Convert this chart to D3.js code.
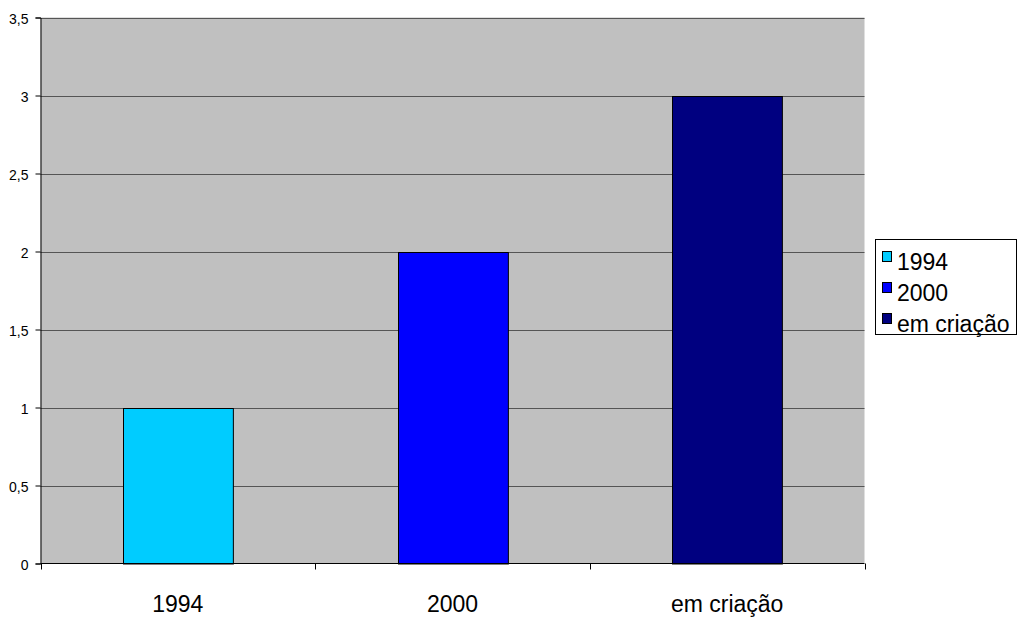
<!DOCTYPE html>
<html>
<head>
<meta charset="utf-8">
<script src="https://cdn.jsdelivr.net/npm/d3@7"></script>
<style>
  html, body { margin: 0; padding: 0; background: #fff; }
  svg { display: block; font-family: "Liberation Sans", Arial, sans-serif; }
</style>
</head>
<body>
<svg id="chart" width="1018" height="619"></svg>
<script>
// Data
const categories = ["1994", "2000", "em criação"];
const values = [1, 2, 3];
const colors = ["#00CCFF", "#0000FF", "#000080"];
const yTicks = [0, 0.5, 1, 1.5, 2, 2.5, 3, 3.5];

const FONT = "Liberation Sans, Arial, sans-serif";
const svg = d3.select("#chart");
const plot = { left: 40.5, right: 864.5, top: 17.5, bottom: 563.5 };

const x = d3.scaleBand()
  .domain(categories)
  .range([plot.left, plot.right])
  .paddingInner(0.6)
  .paddingOuter(0.3);

const y = d3.scaleLinear()
  .domain([0, 3.5])
  .range([plot.bottom, plot.top]);

const fmt = d => String(d).replace(".", ",");

// Plot background
svg.append("rect")
  .attr("x", plot.left).attr("y", plot.top)
  .attr("width", plot.right - plot.left)
  .attr("height", plot.bottom - plot.top)
  .attr("fill", "#C0C0C0");

// Gridlines
svg.append("g").selectAll("line")
  .data(yTicks.filter(d => d > 0))
  .join("line")
  .attr("x1", plot.left).attr("x2", plot.right)
  .attr("y1", d => Math.round(y(d)) + 0.5)
  .attr("y2", d => Math.round(y(d)) + 0.5)
  .attr("stroke", "#555")
  .attr("stroke-width", 1);

// Bars
svg.append("g").selectAll("rect")
  .data(categories)
  .join("rect")
  .attr("x", d => Math.round(x(d)) + 0.5)
  .attr("y", (d, i) => Math.round(y(values[i])) + 0.5)
  .attr("width", x.bandwidth())
  .attr("height", (d, i) => y(0) - Math.round(y(values[i])))
  .attr("fill", (d, i) => colors[i])
  .attr("stroke", "#000")
  .attr("stroke-width", 1);

// Y axis
const yAxis = d3.axisLeft(y)
  .tickValues(yTicks)
  .tickFormat(fmt)
  .tickSize(5)
  .tickPadding(7);
const gy = svg.append("g")
  .attr("transform", `translate(${plot.left},0)`)
  .call(yAxis);
gy.attr("font-family", FONT).attr("font-size", 14);
gy.select(".domain").attr("stroke", "#000");
gy.selectAll(".tick line").attr("stroke", "#000");
gy.selectAll(".tick text").attr("fill", "#000").attr("dy", "0.45em");

// X axis: ticks mark category boundaries
const boundaries = [0, 1, 2, 3].map(i => plot.left + i * (plot.right - plot.left) / 3);
const gx = svg.append("g").attr("font-family", FONT);
gx.append("line")
  .attr("x1", plot.left).attr("x2", plot.right)
  .attr("y1", plot.bottom).attr("y2", plot.bottom)
  .attr("stroke", "#000");
gx.selectAll("line.tk")
  .data(boundaries)
  .join("line")
  .attr("class", "tk")
  .attr("x1", d => Math.round(d) + 0.5).attr("x2", d => Math.round(d) + 0.5)
  .attr("y1", plot.bottom).attr("y2", plot.bottom + 6)
  .attr("stroke", "#000");
gx.selectAll("text")
  .data(categories)
  .join("text")
  .attr("x", d => x(d) + x.bandwidth() / 2)
  .attr("y", 612)
  .attr("text-anchor", "middle")
  .attr("font-size", 23)
  .attr("fill", "#000")
  .text(d => d);

// Legend
const legend = svg.append("g").attr("font-family", FONT);
legend.append("rect")
  .attr("x", 875.5).attr("y", 239.5)
  .attr("width", 141).attr("height", 95)
  .attr("fill", "#fff")
  .attr("stroke", "#000");
const items = legend.selectAll("g.item")
  .data(categories)
  .join("g")
  .attr("class", "item")
  .attr("transform", (d, i) => `translate(0, ${i * 31})`);
items.append("rect")
  .attr("x", 882.5).attr("y", 251.5)
  .attr("width", 9).attr("height", 10)
  .attr("fill", (d, i) => colors[i])
  .attr("stroke", "#000");
items.append("text")
  .attr("x", 897)
  .attr("y", 270)
  .attr("font-size", 23)
  .attr("fill", "#000")
  .text(d => d);
</script>
</body>
</html>
